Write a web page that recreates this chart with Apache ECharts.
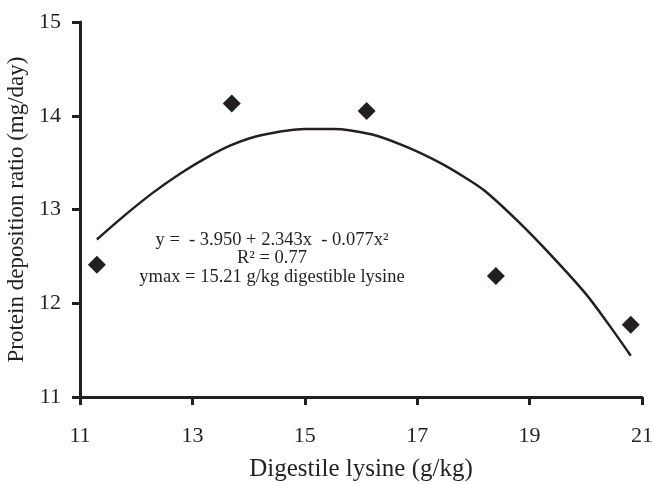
<!DOCTYPE html>
<html><head><meta charset="utf-8">
<script src="https://cdn.jsdelivr.net/npm/echarts@6/dist/echarts.min.js"></script>
<style>html,body{margin:0;padding:0;background:#fff}#c{width:654px;height:484px}</style>
</head><body><div id="c"></div>
<script>
// observed points (digestible lysine g/kg, protein deposition ratio)
const obsX = [11.3, 13.7, 16.1, 18.4, 20.8];
const obsY = [12.41, 14.13, 14.05, 12.29, 11.77];
// fitted curve, values
const fitX = [11.3, 11.8, 12.3, 12.8, 13.3, 13.7, 14.2, 15.0, 15.5, 16.2, 16.8, 17.4, 17.8, 18.2, 18.8, 19.4, 20.0, 20.4, 20.8];
const fitY = [12.68, 12.94, 13.18, 13.39, 13.57, 13.69, 13.79, 13.86, 13.86, 13.80, 13.67, 13.50, 13.36, 13.20, 12.87, 12.50, 12.10, 11.78, 11.44];
const xTicks = [11, 13, 15, 17, 19, 21];
const yTicks = [11, 12, 13, 14, 15];
const eqLines = ['y =  - 3.950 + 2.343x  - 0.077x\u00b2', 'R\u00b2 = 0.77', 'ymax = 15.21 g/kg digestible lysine'];

const ink = '#231f20';
const font = '"Liberation Serif", "Times New Roman", serif';
const chart = echarts.init(document.getElementById('c'));
chart.setOption({
  backgroundColor: '#fff',
  animation: false,
  grid: { left: 80, right: 12, top: 22, bottom: 87, containLabel: false, outerBoundsMode: 'none' },
  xAxis: {
    type: 'value', min: xTicks[0], max: xTicks[xTicks.length - 1], interval: 2,
    name: 'Digestile lysine (g/kg)', nameLocation: 'middle', nameGap: 60,
    nameTextStyle: { fontFamily: font, fontSize: 25, color: ink },
    axisLine: { show: true, onZero: false, lineStyle: { color: ink, width: 3 } },
    axisTick: { show: true, length: 8, lineStyle: { color: ink, width: 3 } },
    axisLabel: { fontFamily: font, fontSize: 22, color: ink, margin: 28 },
    splitLine: { show: false }
  },
  yAxis: {
    type: 'value', min: yTicks[0], max: yTicks[yTicks.length - 1], interval: 1,
    name: 'Protein deposition ratio (mg/day)', nameLocation: 'middle', nameGap: 43,
    nameTextStyle: { fontFamily: font, fontSize: 23, color: ink },
    axisLine: { show: true, onZero: false, lineStyle: { color: ink, width: 3 } },
    axisTick: { show: true, length: 8, lineStyle: { color: ink, width: 3 } },
    axisLabel: { fontFamily: font, fontSize: 22, color: ink, margin: 19 },
    splitLine: { show: false }
  },
  series: [
    {
      type: 'line', data: fitX.map((x, i) => [x, fitY[i]]), smooth: 0.3,
      showSymbol: false, lineStyle: { color: ink, width: 2.5 }, z: 2
    },
    {
      type: 'scatter', data: obsX.map((x, i) => [x, obsY[i]]),
      symbol: 'diamond', symbolSize: [18, 18], itemStyle: { color: ink, opacity: 1 }, z: 3
    }
  ],
  graphic: eqLines.map((t, i) => ({
    type: 'text', style: {
      text: t, x: 272, y: 240 + i * 18.5, align: 'center', verticalAlign: 'middle',
      fontFamily: font, fontSize: 18.5, fill: ink
    }
  }))
});
</script></body></html>
